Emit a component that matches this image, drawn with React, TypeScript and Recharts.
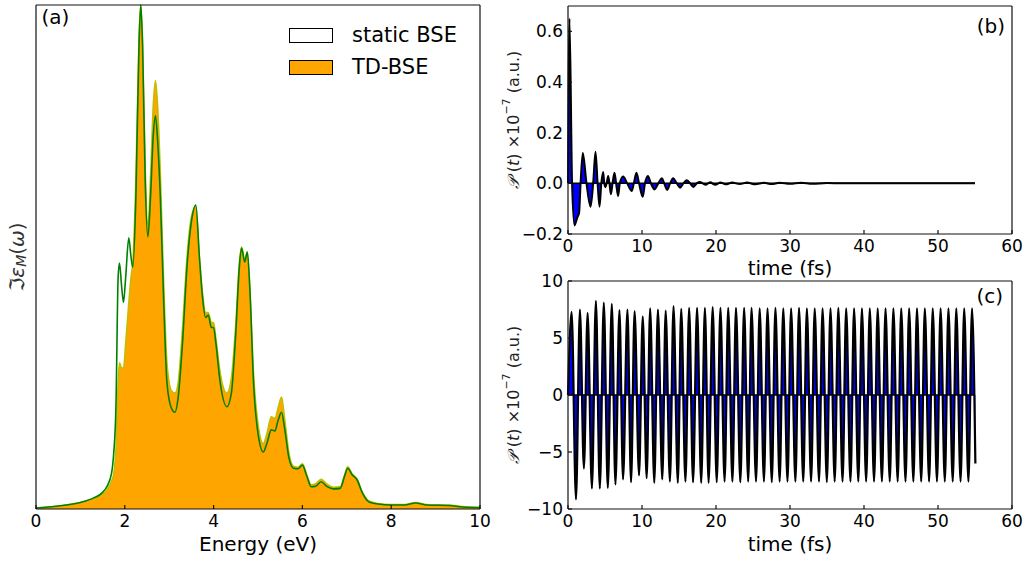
import React from "react";
import { Area, AreaChart, ComposedChart, Label, Legend, Line, ReferenceLine, XAxis, YAxis } from "recharts";

const FONT = "'DejaVu Sans', sans-serif";

// (a) imaginary part of the dielectric function
const energy = [
  0, 0.5, 1.0, 1.3, 1.5, 1.6, 1.7, 1.75, 1.8, 1.85,
  1.88, 1.93, 1.97, 2.02, 2.09, 2.14, 2.18, 2.25, 2.32, 2.36,
  2.4, 2.46, 2.52, 2.58, 2.64, 2.69, 2.74, 2.8, 2.88, 2.95,
  3.05, 3.13, 3.2, 3.3, 3.4, 3.5, 3.6, 3.68, 3.75, 3.82,
  3.88, 3.95, 4.0, 4.05, 4.15, 4.3, 4.4, 4.5, 4.58, 4.63,
  4.7, 4.76, 4.82, 4.9, 5.0, 5.12, 5.2, 5.3, 5.38, 5.45,
  5.53, 5.6, 5.7, 5.8, 5.9, 6.0, 6.1, 6.2, 6.3, 6.42,
  6.55, 6.7, 6.85, 6.95, 7.02, 7.12, 7.23, 7.35, 7.5, 7.7,
  8.0, 8.3, 8.55, 8.8, 9.3, 9.6, 10,
];
const staticBse = [
  0.2, 0.6, 1.3, 2.2, 3.3, 4.5, 7, 11, 20, 46,
  48.8, 44, 41, 46, 53.8, 50, 48, 62, 92, 100,
  92, 65, 54, 62, 74, 78, 73, 62, 40, 25,
  20, 19.2, 22, 33, 48, 57, 60.3, 50, 42, 38,
  38.5, 36, 36, 33, 25, 20.3, 23, 35, 48, 51.8,
  49, 51, 43, 25, 15, 11.3, 13, 15.7, 15.5, 17.5,
  19.2, 16, 10, 8.1, 8, 8.7, 6.5, 4.4, 4.5, 5.4,
  4.5, 4.0, 4.1, 6.5, 8.1, 6.8, 5.8, 3.2, 1.4, 1.0,
  0.8, 0.8, 1.2, 0.8, 0.7, 0.4, 0.3,
];
const tdBse = [
  0.2, 0.6, 1.3, 2.1, 3.0, 3.8, 5.5, 7, 12, 25,
  29, 28, 28, 33, 41, 46, 49, 66, 94, 100,
  93, 68, 56, 66, 80, 85, 80, 67, 44, 29,
  23.5, 23, 25, 36, 50, 58, 60, 50, 43, 39,
  39, 37, 37, 34, 27, 23, 26, 37, 49, 52,
  49.5, 51, 43, 27, 17, 13, 15, 18.3, 18, 20,
  22.2, 18, 11, 8.5, 8.3, 9, 6.8, 4.8, 5, 5.9,
  5, 4.3, 4.4, 6.8, 8.4, 7, 6, 3.4, 1.6, 1.1,
  0.9, 0.9, 1.3, 0.9, 0.8, 0.5, 0.3,
];
const energyTicks = [0, 2, 4, 6, 8, 10];

// (b) polarization after a kick
const bTime = [
  0, 0.2, 0.55, 0.88, 1.25, 1.5, 1.7, 2.0, 2.5, 3.05,
  3.4, 3.72, 4.0, 4.26, 4.5, 4.75, 4.9, 5.07, 5.22, 5.43,
  5.6, 5.8, 6.02, 6.28, 6.5, 6.77, 7.0, 7.45, 8.0, 8.6,
  8.9, 9.25, 9.6, 10.1, 10.4, 10.8, 11.2, 11.7, 12.2, 12.7,
  13.0, 13.4, 13.8, 14.2, 14.7, 15.15, 15.6, 16.05, 16.5, 16.95,
  17.4, 17.85, 18.2, 18.6, 19.2, 19.9, 20.6, 21.3, 22.2, 23.2,
  24.2, 25.3, 26.5, 27.5, 28.6, 30, 31.5, 33, 35, 37,
  55,
];
const bPol = [
  0, 0.65, 0, -0.166, -0.135, -0.116, 0, 0.12, 0, -0.092,
  0, 0.125, 0, -0.092, 0, 0.045, 0, -0.015, 0, 0.029,
  0, -0.043, 0, 0.042, 0, -0.05, 0, 0.027, 0, -0.03,
  0, 0.042, 0, -0.053, 0, 0.029, 0, -0.024, 0, 0.02,
  0, -0.026, 0, 0.02, 0, -0.017, 0, 0.012, 0, -0.014,
  0, 0.005, 0, -0.006, 0.004, -0.006, 0.003, -0.004, 0.003, -0.003,
  0.003, -0.004, 0.002, -0.003, 0.002, -0.002, 0.002, -0.002, 0.001, 0,
  0,
];
const bTicks = [-0.2, 0, 0.2, 0.4, 0.6];

// (c) driven polarization: maxima and minima
const peakTime = [
  0.49, 1.61, 2.65, 3.77, 4.84, 5.92, 6.95, 8.03, 9.0, 10.1,
  11.1, 12.15, 13.2, 14.26, 15.3, 16.37, 17.44, 18.5, 19.55, 20.6,
  21.65, 22.7, 23.8, 24.8, 25.9, 26.96, 28.03, 29.09, 30.15, 31.22,
  32.28, 33.34, 34.4, 35.47, 36.53, 37.59, 38.66, 39.72, 40.78, 41.85,
  42.91, 43.97, 45.03, 46.1, 47.16, 48.22, 49.29, 50.35, 51.41, 52.47,
  53.54, 54.6,
];
const peakValue = [
  7.3, 7.5, 7.2, 8.25, 8.1, 8.0, 7.45, 7.5, 7.35, 6.9,
  7.6, 7.5, 7.4, 7.8, 7.55, 7.65, 7.65, 7.65, 7.7, 7.65,
  7.65, 7.65, 7.65, 7.65, 7.6, 7.6, 7.65, 7.6, 7.6, 7.65,
  7.6, 7.6, 7.6, 7.6, 7.65, 7.6, 7.6, 7.6, 7.6, 7.6,
  7.6, 7.6, 7.6, 7.6, 7.6, 7.6, 7.6, 7.6, 7.6, 7.6,
  7.6, 7.6,
];
const troughTime = [
  1.08, 2.15, 3.23, 4.3, 5.38, 6.41, 7.44, 8.52, 9.6, 10.63,
  11.66, 12.74, 13.77, 14.84, 15.87, 16.9, 18.0, 19.0, 20.1, 21.16,
  22.22, 23.29, 24.35, 25.41, 26.48, 27.54, 28.6, 29.66, 30.73, 31.79,
  32.85, 33.92, 34.98, 36.04, 37.1, 38.17, 39.23, 40.29, 41.36, 42.42,
  43.48, 44.55, 45.61, 46.67, 47.73, 48.8, 49.86, 50.92, 51.99, 53.05,
  54.11,
];
const troughValue = [
  -9.15, -6.45, -8.2, -8.2, -8.15, -7.85, -7.4, -7.65, -7.05, -7.3,
  -7.7, -7.4, -7.6, -7.7, -7.6, -7.65, -7.7, -7.7, -7.65, -7.6,
  -7.6, -7.65, -7.6, -7.6, -7.6, -7.65, -7.6, -7.6, -7.6, -7.6,
  -7.6, -7.6, -7.65, -7.6, -7.6, -7.6, -7.6, -7.6, -7.6, -7.6,
  -7.6, -7.6, -7.6, -7.6, -7.6, -7.6, -7.6, -7.6, -7.6, -7.6,
  -7.6,
];
const cStart = { t: 0, p: 0 };
const cEnd = { t: 55.05, p: -6 };
const cTicks = [-10, -5, 0, 5, 10];
const timeTicks = [0, 10, 20, 30, 40, 50, 60];

const legendItems = [
  { name: "static BSE", fill: "#ffffff" },
  { name: "TD-BSE", fill: "#ffa500" },
];

const spectrum = energy.map((e, i) => ({ e, s: staticBse[i], td: tdBse[i] }));
const decay = bTime.map((t, i) => ({ t, p: bPol[i] }));
const driven = [
  cStart,
  ...peakTime.map((t, i) => ({ t, p: peakValue[i] })),
  ...troughTime.map((t, i) => ({ t, p: troughValue[i] })),
  cEnd,
].sort((a, b) => a.t - b.t);

const axisStyle = { stroke: "#111", strokeWidth: 1.2 };
const tickStyle = { fill: "#000", fontSize: 17, fontFamily: FONT };
const fmt = (d: number) => (v: number) => (v < 0 ? "\u2212" : "") + Math.abs(v).toFixed(d);

const LegendBox = () => (
  <div style={{ fontFamily: FONT, fontSize: 21, color: "#000" }}>
    {legendItems.map((item) => (
      <div key={item.name} style={{ display: "flex", alignItems: "center", height: 32 }}>
        <span style={{ display: "inline-block", width: 44, height: 15, boxSizing: "border-box", border: "1px solid #000", background: item.fill }} />
        <span style={{ marginLeft: 19, lineHeight: "21px" }}>{item.name}</span>
      </div>
    ))}
  </div>
);

const EpsLabel = () => (
  <text x={17} y={257} transform="rotate(-90 17 257)" textAnchor="middle" dominantBaseline="central" fontFamily={FONT} fontSize={20} fill="#333">
    <tspan>ℑ</tspan>
    <tspan fontStyle="italic">ε</tspan>
    <tspan fontStyle="italic" fontSize={14} dy={4}>M</tspan>
    <tspan dy={-4}>(</tspan>
    <tspan fontStyle="italic">ω</tspan>
    <tspan>)</tspan>
  </text>
);

const PolLabel = ({ cx, cy }: { cx: number; cy: number }) => (
  <text x={cx} y={cy} transform={`rotate(-90 ${cx} ${cy})`} textAnchor="middle" dominantBaseline="central" fontFamily={FONT} fontSize={16} fill="#222">
    <tspan fontStyle="italic">𝒫</tspan>
    <tspan> (</tspan>
    <tspan fontStyle="italic">t</tspan>
    <tspan>) ×10</tspan>
    <tspan fontSize={11} dy={-7}>−7</tspan>
    <tspan dy={7}> (a.u.)</tspan>
  </text>
);

const plainText = (x: number, y: number, value: string, anchor = "middle") => () => (
  <text x={x} y={y} textAnchor={anchor} fontFamily={FONT} fontSize={20} fill="#000">
    {value}
  </text>
);

export default function App() {
  return (
    <div style={{ position: "absolute", left: 0, top: 0, width: 1029, height: 562, background: "#fff", fontFamily: FONT }}>
      <div style={{ position: "absolute", left: 0, top: 0 }}>
        <ComposedChart width={500} height={562} data={spectrum} margin={{ top: 4, right: 19, bottom: 0, left: 35 }}>
          <XAxis dataKey="e" type="number" domain={[0, 10]} ticks={energyTicks} interval={0} height={53} tickSize={-4} tickMargin={10} tick={tickStyle} axisLine={axisStyle} tickLine={axisStyle}>
            <Label content={plainText(258, 551, "Energy (eV)")} />
          </XAxis>
          <XAxis xAxisId="top" orientation="top" dataKey="e" type="number" domain={[0, 10]} ticks={energyTicks} interval={0} height={1} tickSize={-4} tick={false} axisLine={axisStyle} tickLine={axisStyle}>
            <Label content={plainText(41.5, 24, "(a)", "start")} />
          </XAxis>
          <YAxis type="number" domain={[0, 100]} width={1} tick={false} tickLine={false} axisLine={axisStyle}>
            <Label content={EpsLabel} />
          </YAxis>
          <YAxis yAxisId="right" orientation="right" type="number" domain={[0, 100]} width={1} tick={false} tickLine={false} axisLine={axisStyle} />
          <Legend content={<LegendBox />} layout="horizontal" verticalAlign="middle" align="center" wrapperStyle={{ top: 19, left: 289, width: 200, height: 66 }} />
          <Area type="monotone" dataKey="td" name="TD-BSE" fill="#ffa500" fillOpacity={1} stroke="#bfbf00" strokeWidth={1.5} isAnimationActive={false} />
          <Line type="monotone" dataKey="s" name="static BSE" stroke="#008000" strokeWidth={1.6} dot={false} isAnimationActive={false} />
        </ComposedChart>
      </div>

      <div style={{ position: "absolute", left: 500, top: 0 }}>
        <AreaChart width={529} height={282} data={decay} margin={{ top: 5, right: 16, bottom: 0, left: 0 }}>
          <XAxis dataKey="t" type="number" domain={[0, 60]} ticks={timeTicks} interval={0} height={48} tickSize={-4} tickMargin={10} tick={tickStyle} axisLine={axisStyle} tickLine={axisStyle}>
            <Label content={plainText(290, 275, "time (fs)")} />
          </XAxis>
          <XAxis xAxisId="top" orientation="top" dataKey="t" type="number" domain={[0, 60]} ticks={timeTicks} interval={0} height={1} tickSize={-4} tick={false} axisLine={axisStyle} tickLine={axisStyle}>
            <Label content={plainText(505, 33, "(b)", "end")} />
          </XAxis>
          <YAxis type="number" domain={[-0.2, 0.7]} ticks={bTicks} interval={0} width={68} tickSize={-4} tickMargin={9} tick={tickStyle} tickFormatter={fmt(1)} axisLine={axisStyle} tickLine={axisStyle}>
            <Label content={() => <PolLabel cx={13} cy={120} />} />
          </YAxis>
          <YAxis yAxisId="right" orientation="right" type="number" domain={[-0.2, 0.7]} ticks={bTicks} interval={0} width={1} tickSize={-4} tick={false} axisLine={axisStyle} tickLine={axisStyle} />
          <Area type="monotone" dataKey="p" fill="#0000ff" fillOpacity={1} stroke="#000" strokeWidth={2} isAnimationActive={false} />
          <ReferenceLine segment={[{ x: 0, y: 0 }, { x: 55, y: 0 }]} stroke="#000" strokeWidth={1.5} />
        </AreaChart>
      </div>

      <div style={{ position: "absolute", left: 500, top: 262 }}>
        <AreaChart width={529} height={300} data={driven} margin={{ top: 18, right: 16, bottom: 0, left: 0 }}>
          <XAxis dataKey="t" type="number" domain={[0, 60]} ticks={timeTicks} interval={0} height={53} tickSize={-4} tickMargin={10} tick={tickStyle} axisLine={axisStyle} tickLine={axisStyle}>
            <Label content={plainText(290, 289, "time (fs)")} />
          </XAxis>
          <XAxis xAxisId="top" orientation="top" dataKey="t" type="number" domain={[0, 60]} ticks={timeTicks} interval={0} height={1} tickSize={-4} tick={false} axisLine={axisStyle} tickLine={axisStyle}>
            <Label content={plainText(503, 41, "(c)", "end")} />
          </XAxis>
          <YAxis type="number" domain={[-10, 10]} ticks={cTicks} interval={0} width={68} tickSize={-4} tickMargin={9} tick={tickStyle} tickFormatter={fmt(0)} axisLine={axisStyle} tickLine={axisStyle}>
            <Label content={() => <PolLabel cx={13} cy={133} />} />
          </YAxis>
          <YAxis yAxisId="right" orientation="right" type="number" domain={[-10, 10]} ticks={cTicks} interval={0} width={1} tickSize={-4} tick={false} axisLine={axisStyle} tickLine={axisStyle} />
          <Area type="monotone" dataKey="p" fill="#0000ff" fillOpacity={1} stroke="#000" strokeWidth={2.2} isAnimationActive={false} />
          <ReferenceLine segment={[{ x: 0, y: 0 }, { x: 55, y: 0 }]} stroke="#000" strokeWidth={1.5} />
        </AreaChart>
      </div>
    </div>
  );
}
